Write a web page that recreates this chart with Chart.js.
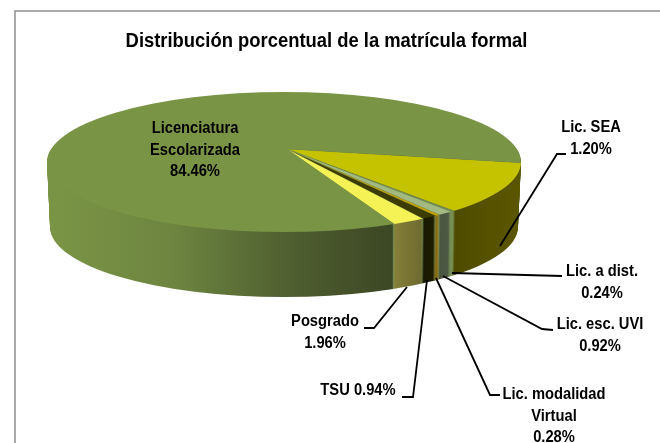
<!DOCTYPE html>
<html><head><meta charset="utf-8">
<style>html,body{margin:0;padding:0;background:#fff}canvas{display:block}</style>
<script src="https://cdn.jsdelivr.net/npm/chart.js@4"></script>
</head><body><canvas id="c" width="660" height="443"></canvas>
<script>
const categories = ["Lic. SEA","Lic. a dist.","Lic. esc. UVI","Lic. modalidad Virtual","TSU","Posgrado","Licenciatura Escolarizada"];
const shares = [11.20,0.24,0.92,0.28,0.94,1.96,84.46];
const labelLines = [["Lic. SEA","1.20%"],["Lic. a dist.","0.24%"],["Lic. esc. UVI","0.92%"],["Lic. modalidad","Virtual","0.28%"],["TSU 0.94%"],["Posgrado","1.96%"],["Licenciatura","Escolarizada","84.46%"]];
const titleText = "Distribución porcentual de la matrícula formal";
const topColors = ["#c5c300","#6f8a55","#a3b982","#c9a400","#3c3c00","#f5f255","#7a9445"];
const sideStops = [
  ["#4f4c00","#5a5600"],["#6f8a55","#6f8a55"],["#47533f","#4d5a44"],["#a86f00","#8f6000"],
  ["#171800","#1c1d00"],["#87813a","#6f6a30"],["#7a9445","#3c4724"]];
const sideRange = [[455,520],[450,456],[436,450],[432,436],[421,432],[392,421],[55,392]];
const labelPos = [[591,128],[602,272],[600,325],[554,395],[358,391],[325,322],[195,129]];
const leaders = [
  [[500,246],[557,154],[566,154]],
  [[452,273],[562,276]],
  [[443,276],[542,329],[553,330]],
  [[436,278],[490,395],[500,395]],
  [[427,280],[413,397],[402,397]],
  [[407,287],[374,328],[364,328]],
  []];
const geo = {cx:284,cy:162,rx:237,ry:70,ax:287,ay:149,depth:65,shrink:3,sy:0.295,startDeg:11.2};
const fontFamily = "'Liberation Sans',Arial,sans-serif";
const squeeze = 0.92;

const pie3d = {
  id:'pie3d',
  beforeDraw(chart){
    const c=chart.ctx;
    c.save();c.strokeStyle='#8f8f8f';c.lineWidth=1.5;
    c.beginPath();c.moveTo(15,443);c.lineTo(15,11);c.lineTo(660,11);c.stroke();c.restore();
  },
  beforeDatasetsDraw(chart){
    const c=chart.ctx, arcs=chart.getDatasetMeta(0).data;
    const paint=(d,k,styleFor,bw,bc)=>{
      c.save();
      c.beginPath();
      c.ellipse(geo.cx,geo.cy+d,geo.rx-k,geo.ry,0,0,Math.PI*2);
      c.clip();
      c.translate(geo.ax,geo.ay+d);
      c.scale(1,geo.sy);
      arcs.forEach((a,i)=>{
        const o=a.options,x=a.x,y=a.y,r=a.outerRadius;
        a.options=Object.assign({},o,{backgroundColor:styleFor(i),borderWidth:bw,borderColor:bc,offset:0,spacing:0});
        a.x=0;a.y=0;a.outerRadius=900;
        a.draw(c);
        a.options=o;a.x=x;a.y=y;a.outerRadius=r;
      });
      c.restore();
    };
    const grads=sideStops.map((s,i)=>{
      const g=c.createLinearGradient(sideRange[i][0]-geo.ax,0,sideRange[i][1]-geo.ax,0);
      if(i===6){g.addColorStop(0,s[0]);g.addColorStop(.35,'#6d8540');g.addColorStop(.7,'#4f5f30');g.addColorStop(1,s[1]);}
      else{g.addColorStop(0,s[0]);g.addColorStop(1,s[1]);}
      return g;
    });
    for(let d=geo.depth;d>=1;d--){
      paint(d,geo.shrink*d/geo.depth,i=>grads[i],1,'rgba(135,160,95,0.9)');
    }
    paint(0,0,i=>topColors[i],0.6,'rgba(120,145,80,0.6)');
    return false;
  },
  afterDraw(chart){
    const c=chart.ctx;
    const squeezed=(t,x,y)=>{c.save();c.translate(x,y);c.scale(squeeze,1);c.fillText(t,0,0);c.restore();};
    c.save();
    c.strokeStyle='#000';c.lineWidth=1.8;c.lineJoin='miter';
    leaders.forEach(l=>{
      if(!l.length)return;
      c.beginPath();l.forEach((p,i)=>i?c.lineTo(p[0],p[1]):c.moveTo(p[0],p[1]));c.stroke();
    });
    c.fillStyle='#000';c.textAlign='center';c.textBaseline='middle';
    c.font="bold 20px "+fontFamily;
    squeezed(titleText,326.5,41);
    c.font="bold 16px "+fontFamily;
    labelLines.forEach((ls,i)=>{
      ls.forEach((t,j)=>squeezed(t,labelPos[i][0],labelPos[i][1]+j*21.3));
    });
    c.restore();
  }
};

new Chart(document.getElementById('c'),{
  type:'pie',
  data:{labels:categories,datasets:[{data:shares,backgroundColor:topColors,borderWidth:0}]},
  options:{
    responsive:false,animation:false,rotation:geo.startDeg+90,
    plugins:{legend:{display:false},tooltip:{enabled:false},title:{display:false}}
  },
  plugins:[pie3d]
});
</script></body></html>
